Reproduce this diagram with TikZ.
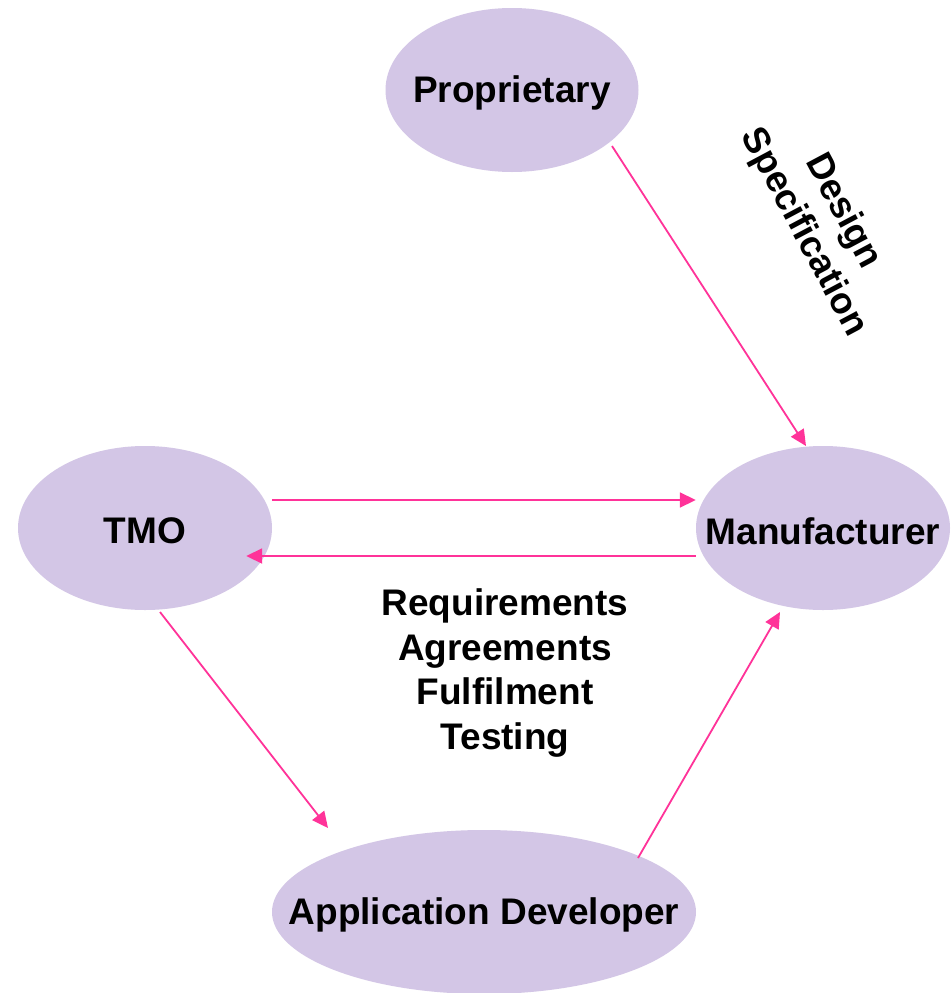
\documentclass[tikz,border=0pt]{standalone}
\usepackage{fontspec}
\setmainfont{Liberation Sans}
\usetikzlibrary{arrows.meta,shapes.geometric}
\definecolor{lav}{HTML}{D3C6E6}
\definecolor{pinkline}{HTML}{FF3399}
\begin{document}
\begin{tikzpicture}[x=1pt,y=-1pt,
  blob/.style={ellipse,fill=lav,draw=none,inner sep=0pt,minimum height=164pt},
  intext/.style={font=\fontsize{37}{44}\selectfont\bfseries,inner sep=0pt,yshift=-3pt},
  link/.style={draw=pinkline,line width=1.8pt,-{Triangle[length=16pt,width=15pt]}},
  lbl/.style={font=\fontsize{37}{44.5}\selectfont\bfseries,align=center,inner sep=0pt}]
\useasboundingbox[fill=white] (0,0) rectangle (951,993);
\node[blob,minimum width=253pt,label={[intext]center:Proprietary}] (prop) at (512,90) {};
\node[blob,minimum width=254pt,label={[intext]center:TMO}] (tmo) at (145,528) {};
\node[blob,minimum width=254pt,label={[intext]center:Manufacturer}] (man) at (823,528) {};
\node[blob,minimum width=424pt,label={[intext]center:Application Developer}] (app) at (484,912) {};
\draw[link] ([shift={(100,56)}]prop.center) -- ([shift={(-17,-82)}]man.center);
\draw[link] ([shift={(0,-28)}]tmo.east) -- ([shift={(0,-28)}]man.west);
\draw[link] ([shift={(0,28)}]man.west) -- ([shift={(-26,28)}]tmo.east);
\draw[link] ([shift={(15,84)}]tmo.center) -- ([shift={(-156,-84)}]app.center);
\draw[link] ([shift={(154,-54)}]app.center) -- ([shift={(-43,84)}]man.center);
\node[lbl] (req) at (505,673) {Requirements\\Agreements\\Fulfilment\\Testing};
\node[lbl,rotate=-62] (des) at (823,222) {Design\\Specification};
\end{tikzpicture}
\end{document}
